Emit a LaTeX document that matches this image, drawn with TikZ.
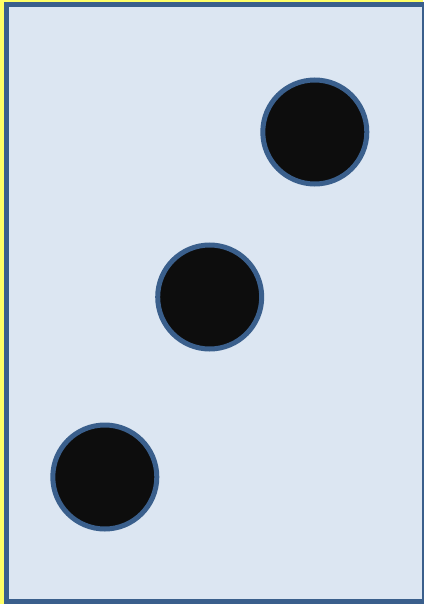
\documentclass[tikz,border=0pt]{standalone}
\definecolor{paneblue}{HTML}{DCE6F2}
\definecolor{edgeblue}{HTML}{3A5F8C}
\definecolor{sideyellow}{HTML}{FFFF66}
\definecolor{dotblack}{HTML}{0D0D0D}
\tikzset{
  dot/.style={circle, draw=edgeblue, fill=dotblack, line width=5pt, minimum size=104pt, inner sep=0pt},
}
\begin{document}
\begin{tikzpicture}[x=1pt,y=-1pt]
\useasboundingbox (0,0) rectangle (423,604);
\fill[sideyellow] (0,0) rectangle (423,604);
\draw[edgeblue, fill=paneblue, line width=5pt] (6.5,4.5) rectangle (424,601.5);
\node[dot] (c1) at (314.8,132) {};
\node[dot] (c2) at (209.7,297) {};
\node[dot] (c3) at (104.8,477) {};
\end{tikzpicture}
\end{document}
